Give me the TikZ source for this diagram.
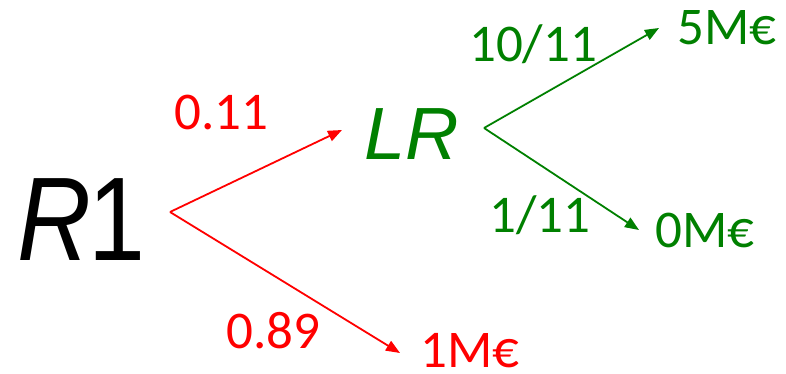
\documentclass[tikz,border=0pt]{standalone}
\usepackage{fontspec}
\setmainfont{Carlito}
\newfontfamily\arialf{Liberation Sans}
\usetikzlibrary{arrows.meta}
\definecolor{rd}{RGB}{255,0,0}
\definecolor{gn}{RGB}{0,128,0}
\begin{document}
\begin{tikzpicture}[x=1pt,y=-1pt,
  lbl/.style={inner sep=0pt,anchor=base west,font=\fontsize{53}{53}\selectfont},
  arr/.style={line width=1.8pt,-{Triangle[length=14pt,width=11pt]}}]
\useasboundingbox (0,0) rectangle (786,374);
\node[inner sep=0pt,anchor=base west,xscale=0.86,font=\arialf\fontsize{119}{119}\selectfont] (r1) at (17,260) {{\itshape R}\kern-3pt 1};
\node[inner sep=0pt,anchor=base west,text=gn,font=\arialf\fontsize{74}{74}\selectfont] (lr) at (364,160) {{\itshape LR}};
\node[lbl,text=rd] (p011) at (174,130) {0.11};
\node[lbl,text=rd] (p089) at (226,348) {0.89};
\node[lbl,text=rd] (m1) at (420,367) {1M€};
\node[lbl,text=gn] (p1011) at (469,62) {10/11};
\node[lbl,text=gn] (p111) at (489,232) {1/11};
\node[lbl,text=gn] (m5) at (677,45) {5M€};
\node[lbl,text=gn] (m0) at (655,247) {0M€};
\coordinate (ro) at (170,212);
\coordinate (rlr) at (342,130);
\coordinate (rm1) at (400,353);
\coordinate (go) at (484,128);
\coordinate (gm5) at (659,28);
\coordinate (gm0) at (639,230);
\draw[arr,draw=rd,fill=rd] (ro) -- (rlr);
\draw[arr,draw=rd,fill=rd] (ro) -- (rm1);
\draw[arr,draw=gn,fill=gn] (go) -- (gm5);
\draw[arr,draw=gn,fill=gn] (go) -- (gm0);
\end{tikzpicture}
\end{document}
